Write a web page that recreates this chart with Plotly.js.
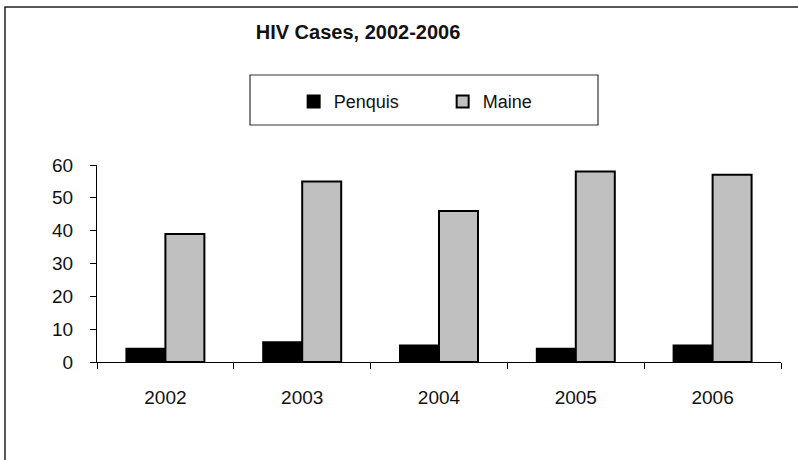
<!DOCTYPE html>
<html>
<head>
<meta charset="utf-8">
<script src="https://cdn.plot.ly/plotly-3.0.1.min.js"></script>
<style>html,body{margin:0;padding:0;background:#fff;}#chart{width:798px;height:460px;}</style>
</head>
<body>
<div id="chart"></div>
<script>
var years = ["2002", "2003", "2004", "2005", "2006"];
var penquis = [4, 6, 5, 4, 5];
var maine = [39, 55, 46, 58, 57];
var yTicks = [0, 10, 20, 30, 40, 50, 60];

var traces = [
  {type: "bar", name: "Penquis", x: years, y: penquis,
   marker: {color: "#000000", line: {color: "#000000", width: 2}}},
  {type: "bar", name: "Maine", x: years, y: maine,
   marker: {color: "#c0c0c0", line: {color: "#000000", width: 2}}}
];

var fontFam = "Liberation Sans, Arial, sans-serif";
var layout = {
  width: 798, height: 460,
  margin: {l: 97, r: 17, t: 165, b: 98},
  paper_bgcolor: "#ffffff", plot_bgcolor: "#ffffff",
  font: {family: fontFam, color: "#111111", size: 18},
  barmode: "group", bargap: 0.43, bargroupgap: 0,
  title: {text: "<b>HIV Cases, 2002-2006</b>", font: {family: fontFam, size: 20, color: "#111111"},
          xref: "paper", x: 0.3816, xanchor: "center", yref: "container", y: 1 - 32/460, yanchor: "middle"},
  xaxis: {type: "category", tickson: "boundaries", ticks: "outside", ticklen: 6, tickcolor: "#000",
          showline: true, linecolor: "#000", linewidth: 1, showgrid: false, zeroline: false,
          tickfont: {size: 19, family: fontFam, color: "#111"}, ticklabelstandoff: 18, fixedrange: true},
  yaxis: {range: [0, 60], tickvals: yTicks, ticks: "outside", ticklen: 6, tickcolor: "#000",
          showline: true, linecolor: "#000", linewidth: 1, showgrid: false, zeroline: false,
          tickfont: {size: 19, family: fontFam, color: "#111"}, ticklabelstandoff: 13, fixedrange: true},
  showlegend: true,
  legend: {orientation: "h", x: 0.2875, xanchor: "left", y: 1.321, yanchor: "middle",
           bgcolor: "rgba(0,0,0,0)", borderwidth: 0, entrywidth: 104,
           font: {size: 18, family: fontFam, color: "#111"}, traceorder: "normal"},
  shapes: [
    {type: "rect", xref: "paper", yref: "paper", x0: (5-97)/684, x1: 1.05, y0: -0.6, y1: (362-7)/197,
     line: {color: "#222", width: 1.5}, fillcolor: "rgba(0,0,0,0)", layer: "below"},
    {type: "rect", xref: "paper", yref: "paper", x0: (250-97)/684, x1: (598-97)/684, y0: (362-125)/197, y1: (362-75)/197,
     line: {color: "#333", width: 1.2}, fillcolor: "rgba(0,0,0,0)", layer: "below"}
  ]
};

Plotly.newPlot("chart", traces, layout, {displayModeBar: false, staticPlot: true});
</script>
</body>
</html>
